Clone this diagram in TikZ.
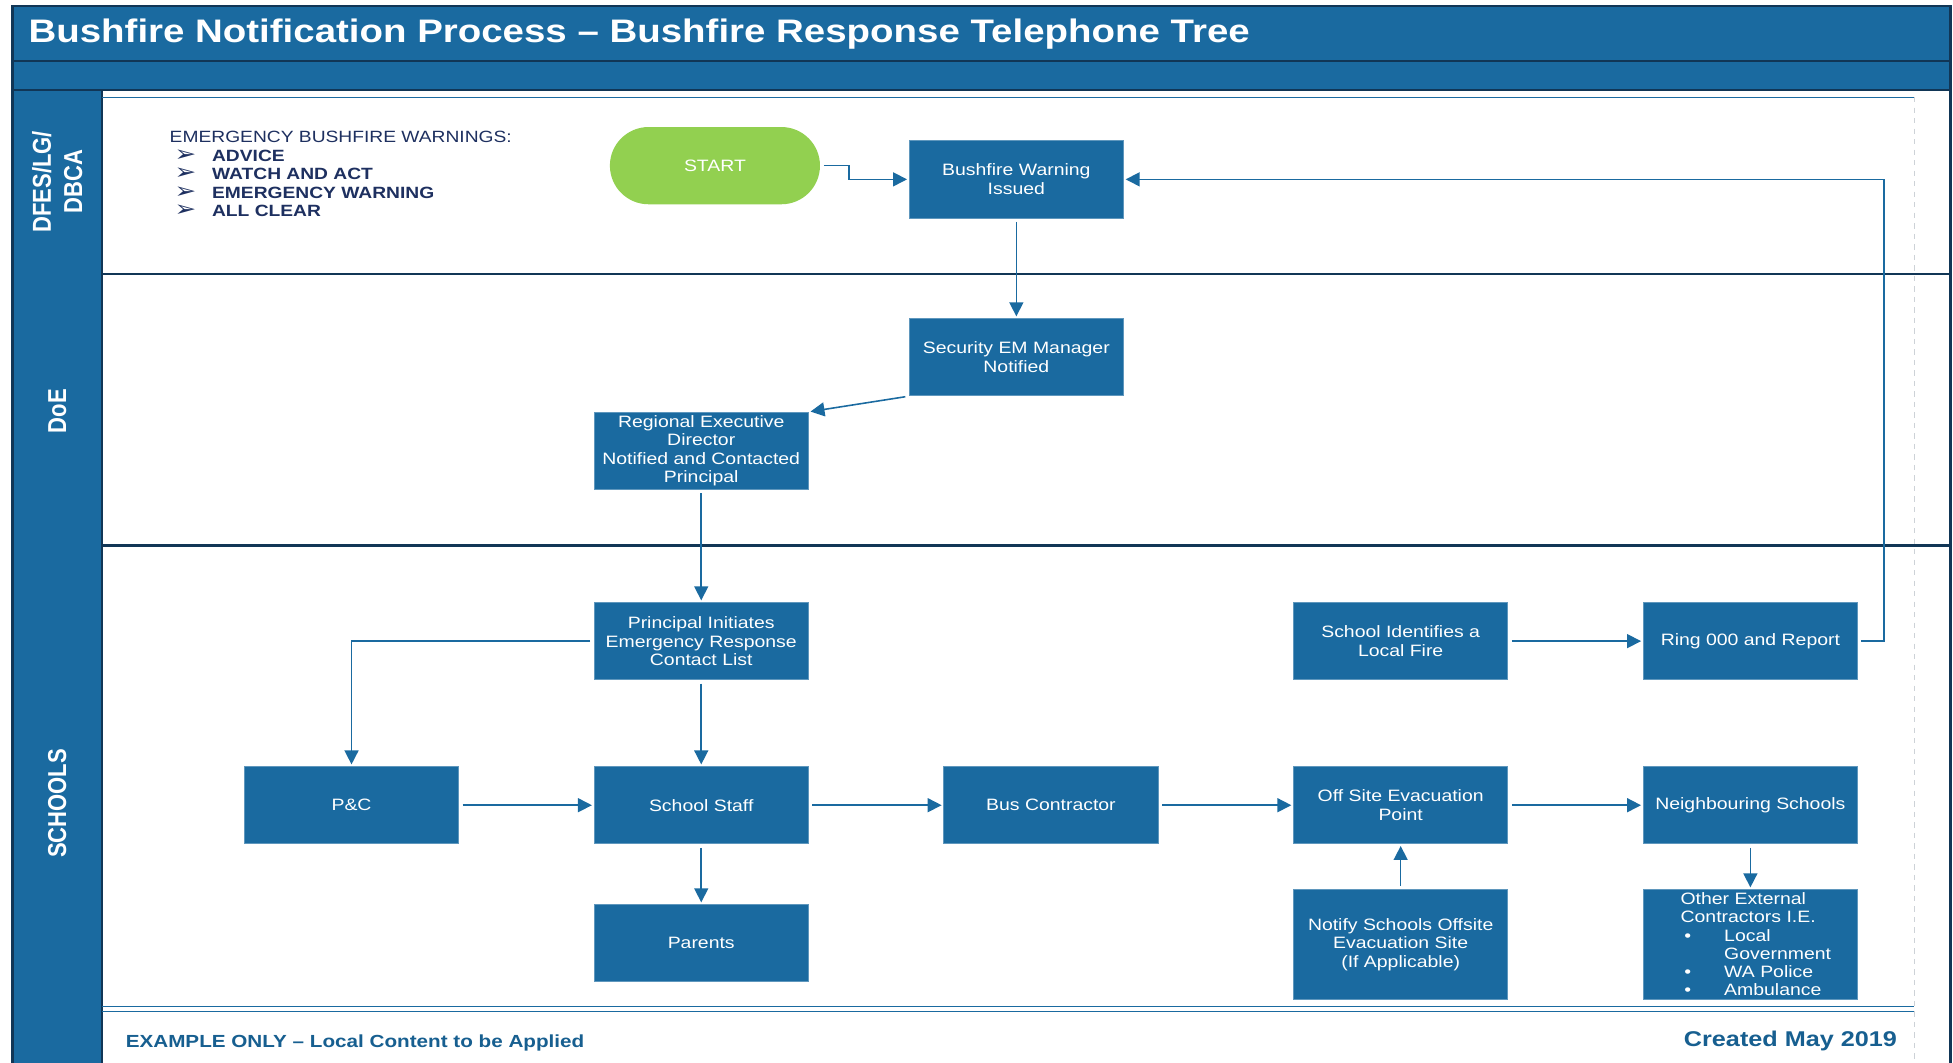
\documentclass[tikz,border=0pt]{standalone}
\usepackage{fontspec}
\setmainfont{Liberation Sans}[FakeStretch=1.18]
\newfontfamily\lanefont{Liberation Sans}[FakeStretch=0.85]
\newfontfamily\symfont{DejaVu Sans}[FakeStretch=1.18]
\usepackage{xcolor}
\usepackage{tikz}
\usetikzlibrary{shapes,arrows.meta,positioning,calc}
\definecolor{laneblue}{RGB}{26,106,160}
\definecolor{edgenavy}{RGB}{17,54,86}
\definecolor{listnavy}{RGB}{30,48,96}
\definecolor{startgreen}{RGB}{146,208,80}
\definecolor{guidegray}{RGB}{205,210,215}
\newcommand{\warnitem}[1]{\makebox[0.85cm][l]{\hspace{0.1cm}{\symfont\bfseries\fontsize{12.5}{10.6}\selectfont ➢}}\textbf{#1}}
\newcommand{\otheritem}[1]{\makebox[0.875cm][l]{\hspace{0.075cm}\textbullet}\mbox{#1}}

\begin{document}
\begin{tikzpicture}[
    x=0.025cm, y=-0.025cm,
    node distance=1.725cm and 2.7cm,
    stepbox/.style={rectangle, fill=laneblue, draw=laneblue!70!white, line width=0.5pt, text=white, minimum width=4.3cm, minimum height=1.55cm, inner sep=1pt, align=center, font=\fontsize{9.4}{10.6}\selectfont},
    tallbox/.style={stepbox, minimum height=2.2cm},
    startnode/.style={rounded rectangle, fill=startgreen, text=white, minimum width=4.45cm, minimum height=1.55cm, font=\fontsize{9.4}{10.6}\selectfont},
    arrow/.style={-{Triangle[length=2.8mm,width=2.8mm]}, line width=0.9pt, draw=laneblue, shorten <=2pt, shorten >=1pt},
    lanelabel/.style={rotate=90, text=white, align=center, font=\lanefont\bfseries\fontsize{14.8}{17.8}\selectfont},
    band/.style={fill=laneblue, draw=edgenavy, line width=1.2pt},
    divider/.style={draw=edgenavy, line width=1.2pt}
]
\useasboundingbox (0,0) rectangle (1568,853);
\fill[white] (0,0) rectangle (1568,853);

% Frame and bands
\draw[band] (10,5) rectangle (1566,49);
\draw[band] (10,49) rectangle (1566,72);
\draw[band] (10,72) rectangle (82,870);
\draw[divider] (1566,5) -- (1566,870);
\draw[divider] (82,220) -- (1566,220);
\draw[divider] (82,438) -- (1566,438);
\draw[laneblue, line width=0.6pt] (82,78) -- (1537,78);
\draw[laneblue, line width=0.6pt] (82,808) -- (1537,808);
\draw[laneblue, line width=0.6pt] (82,812) -- (1537,812);
\draw[guidegray, dashed, line width=0.4pt] (1537,78) -- (1537,870);

% Title
\node[anchor=west, text=white, font=\bfseries\fontsize{18.6}{20}\selectfont] (title) at (18,27) {Bushfire Notification Process – Bushfire Response Telephone Tree};

% Lane labels
\node[lanelabel] (lanedfes) at (46,146) {DFES/LG/\\DBCA};
\node[lanelabel] (lanedoe) at (46,330) {DoE};
\node[lanelabel] (laneschools) at (46,645) {SCHOOLS};

% Warning levels
\node[anchor=north west, align=left, text=listnavy, inner sep=0pt, font=\fontsize{9.3}{10.6}\selectfont] (warnlist) at (136,105)
  {EMERGENCY BUSHFIRE WARNINGS:\\ \warnitem{ADVICE}\\ \warnitem{WATCH AND ACT}\\ \warnitem{EMERGENCY WARNING}\\ \warnitem{ALL CLEAR}};

% DFES/LG/DBCA
\node[startnode] (start) at (574,133) {START};
\node[stepbox] (warn) at (816,144) {Bushfire Warning\\Issued};

% DoE
\node[stepbox, below=2cm of warn] (secem) {Security EM Manager\\Notified};
\node[stepbox] (red) at (563,362) {Regional Executive\\Director\\Notified and Contacted\\Principal};

% Schools
\node[stepbox, below=2.25cm of red] (princ) {Principal Initiates\\Emergency Response\\Contact List};
\node[stepbox, below=of princ] (staff) {School Staff};
\node[stepbox, left=of staff] (pc) {P\&C};
\node[stepbox, right=of staff] (bus) {Bus Contractor};
\node[stepbox, right=of bus] (offsite) {Off Site Evacuation\\Point};
\node[stepbox, right=of offsite] (neigh) {Neighbouring Schools};
\node[stepbox, above=of offsite] (ident) {School Identifies a\\Local Fire};
\node[stepbox, above=of neigh] (ring) {Ring 000 and Report};
\node[stepbox, below=1.2cm of staff] (parents) {Parents};
\node[tallbox, below=0.9cm of offsite] (notify) {Notify Schools Offsite\\Evacuation Site\\(If Applicable)};
\node[tallbox, below=0.9cm of neigh, align=left, text width=2.8cm, inner xsep=0.75cm, inner ysep=0pt, font=\fontsize{9.4}{10.4}\selectfont] (other)
  {Other External\\Contractors I.E.\\\otheritem{Local}\\\hspace*{0.875cm}\mbox{Government}\\\otheritem{WA Police}\\\otheritem{Ambulance}};

% Footer
\node[anchor=west, text=laneblue!90!black, font=\bfseries\fontsize{10}{12}\selectfont] (footleft) at (96,837) {EXAMPLE ONLY – Local Content to be Applied};
\node[anchor=east, text=laneblue!90!black, font=\bfseries\fontsize{12.2}{14}\selectfont] (footright) at (1528,836) {Created May 2019};

% Arrows
\draw[arrow] (start.east) -- ++(23,0) |- (warn.west);
\draw[arrow] (warn) -- (secem);
\draw[arrow] (secem.south west) -- (red.north east);
\draw[arrow] (red) -- (princ);
\draw[arrow] (princ.west) -| (pc.north);
\draw[arrow] (princ) -- (staff);
\draw[arrow] (pc) -- (staff);
\draw[arrow] (staff) -- (bus);
\draw[arrow] (bus) -- (offsite);
\draw[arrow] (offsite) -- (neigh);
\draw[arrow] (staff) -- (parents);
\draw[arrow] (notify) -- (offsite);
\draw[arrow] (neigh) -- (other);
\draw[arrow] (ident) -- (ring);
\draw[arrow] (ring.east) -- ++(21,0) |- (warn.east);

\end{tikzpicture}
\end{document}
